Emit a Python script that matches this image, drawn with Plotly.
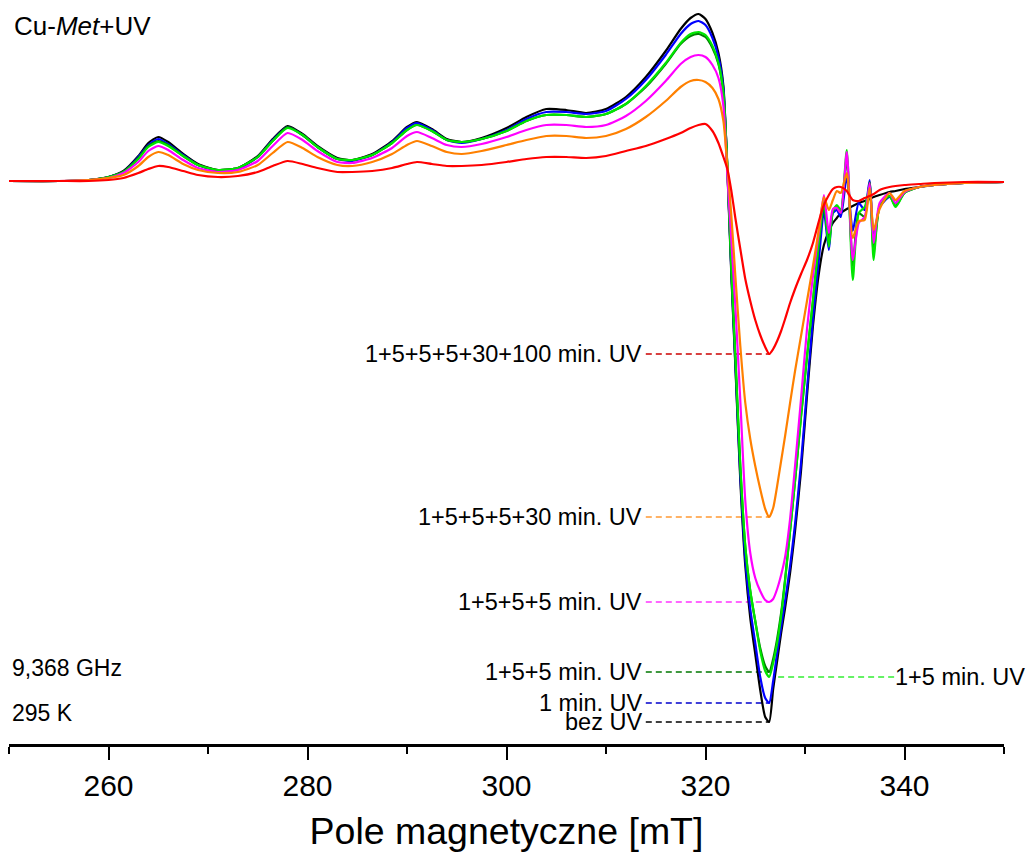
import plotly.graph_objects as go

# Magnetic field grid [mT]
field_mT = [250, 255, 258, 260, 261.5, 263, 264, 265, 266, 267.5,
            269, 271, 273, 275, 276.5, 278, 279.5, 281, 283, 284.5,
            286.5, 288.5, 290, 291, 292.5, 294, 295.5, 297.5, 300, 302,
            304, 306, 308, 310, 312, 314, 316, 317.5, 318.5, 319.3,
            320, 320.7, 321.3, 321.8, 322.2, 322.6, 323, 323.5, 324, 324.5,
            325, 325.5, 326, 326.4, 326.8, 327.2, 327.6, 328, 328.5, 329,
            329.6, 330.2, 330.8, 331.4, 331.9, 332.4, 332.8, 333.2, 333.6, 334.2,
            334.8, 335.4, 336, 336.5, 336.9, 337.5, 338.5, 339.1, 340, 341.5,
            343, 346, 350]

# EPR signal (first derivative, a.u.)
bez_uv = [0, 0, 1, 4, 10, 25, 38, 44, 39, 27,
          17, 11, 13, 25, 42, 55, 47, 35, 23, 21,
          27, 40, 54, 59, 52, 42, 39, 43, 53, 64,
          72, 71, 68, 72, 84, 104, 130, 152, 163, 167,
          162, 148, 128, 95, 10, -95, -185, -300, -385, -437,
          -473, -509, -536, -541, -508, -480, -452, -427, -392, -350,
          -290, -215, -145, -92, -64, -50, -42, -37, -32, -28,
          -25, -22, -20, -18, -16, -14, -11, -10, -8, -6,
          -4, -2, -1]

uv_1 = [0, 0, 1, 4, 9, 24, 36, 42, 37, 26,
        16, 10, 12, 24, 41, 54, 46, 34, 22, 20,
        26, 39, 53, 58, 51, 41, 38, 42, 51, 62,
        69, 69, 67, 70, 82, 101, 126, 147, 157, 160,
        156, 143, 124, 92, 12, -92, -182, -295, -378, -428,
        -462, -496, -517, -522, -500, -472, -446, -420, -385, -343,
        -282, -208, -138, -78, -30, -69, -32, -29, -36, 5,
        -50, -22, -29, 1, -59, -26, -16, -22, -11, -6,
        -4, -2, -1]

uv_1_5 = [0, 0, 1, 4, 9, 22, 34, 39, 35, 25,
          16, 11, 13, 24, 40, 53, 46, 34, 22, 21,
          26, 38, 51, 56, 50, 41, 39, 42, 50, 60,
          66, 66, 64, 67, 77, 95, 118, 138, 147, 149,
          146, 135, 118, 88, 14, -88, -175, -285, -365, -410,
          -440, -470, -490, -496, -482, -462, -435, -400, -350, -300,
          -235, -175, -119, -60, -20, -66, -30, -24, -29, 31,
          -99, -32, -26, -6, -79, -25, -15, -26, -12, -6,
          -4, -2, -1]

uv_1_5_5 = [0, 0, 1, 4, 9, 23, 35, 40, 36, 25,
            16, 11, 13, 24, 40, 54, 46, 34, 22, 21,
            26, 38, 51, 56, 50, 41, 39, 42, 50, 60,
            66, 66, 64, 67, 77, 94, 117, 137, 145, 147,
            144, 133, 117, 87, 13, -88, -176, -286, -366, -410,
            -440, -467, -485, -491, -478, -458, -432, -398, -350, -300,
            -236, -176, -120, -62, -24, -62, -30, -26, -32, 24,
            -85, -32, -36, -1, -72, -25, -15, -25, -12, -6,
            -4, -2, -1]

uv_1_5_5_5 = [0, 0, 1, 3, 8, 19, 30, 35, 31, 21,
              13, 9, 11, 20, 35, 48, 41, 30, 19, 18,
              23, 33, 45, 49, 43, 36, 34, 37, 44, 51,
              56, 56, 54, 56, 65, 80, 100, 117, 124, 126,
              124, 116, 103, 75, 5, -60, -125, -220, -320, -372,
              -397, -410, -419, -421, -418, -408, -394, -376, -338, -285,
              -218, -148, -95, -50, -14, -52, -28, -27, -32, 29,
              -79, -42, -36, -2, -62, -22, -12, -22, -11, -6,
              -4, -2, -1]

uv_1_5_5_5_30 = [0, 0, 1, 3, 6, 15, 24, 29, 26, 17,
                 11, 8, 9, 16, 28, 39, 33, 24, 16, 15,
                 19, 27, 36, 40, 35, 29, 27, 30, 36, 41,
                 45, 45, 43, 45, 52, 64, 80, 94, 100, 101,
                 99, 93, 82, 60, 15, -35, -95, -165, -222, -258,
                 -285, -308, -328, -336, -327, -305, -280, -255, -222, -190,
                 -155, -120, -85, -48, -16, -29, -19, -10, -12, 8,
                 -57, -40, -39, -7, -49, -28, -12, -19, -10, -6,
                 -4, -2, -1]

uv_1_5_5_5_30_100 = [0, 0, 0, 1, 3, 8, 12, 15, 14, 10,
                     6, 4, 5, 9, 15, 20, 17, 13, 9, 9,
                     10, 13, 17, 19, 17, 15, 15, 16, 19, 22,
                     24, 24, 23, 25, 30, 35, 42, 48, 53, 56,
                     57, 50, 38, 24, 12, -10, -37, -68, -98, -120,
                     -139, -154, -166, -173, -168, -160, -150, -138, -122, -108,
                     -93, -79, -62, -40, -24, -14, -8, -6, -6, -10,
                     -19, -20, -17, -15, -13, -9, -6, -5, -4, -3,
                     -2, -1, -1]

labels = ["bez UV", "1 min. UV", "1+5 min. UV", "1+5+5 min. UV",
          "1+5+5+5 min. UV", "1+5+5+5+30 min. UV", "1+5+5+5+30+100 min. UV"]
series = [bez_uv, uv_1, uv_1_5, uv_1_5_5, uv_1_5_5_5, uv_1_5_5_5_30, uv_1_5_5_5_30_100]
line_colors = ["#000000", "#0000ff", "#00e600", "#008000", "#ff00ff", "#ff8000", "#ff0000"]
leader_colors = ["#000000", "#0000cc", "#33ee33", "#007700", "#ff33ff", "#ff9933", "#cc0000"]

tick_vals = [260, 280, 300, 320, 340]
minor_vals = [250, 270, 290, 310, 330, 350]

FONT = "Arial, Liberation Sans, sans-serif"
LABEL_SIZE = 23.5

fig = go.Figure()

# leader lines from each label to the minimum of its spectrum
for i, ys in enumerate(series):
    y_min = min(ys)
    x_min = field_mT[ys.index(y_min)]
    if labels[i] == "1+5 min. UV":
        xs = [327.3, 339.0]
    else:
        xs = [314.0, x_min]
    fig.add_trace(go.Scatter(x=xs, y=[y_min, y_min], mode="lines",
                             line=dict(color=leader_colors[i], width=1.3, dash="6px,4px"),
                             hoverinfo="skip", showlegend=False))

draw_order = [0, 1, 3, 2, 4, 5, 6]
for i in draw_order:
    fig.add_trace(go.Scatter(x=field_mT, y=series[i], mode="lines", name=labels[i],
                             line=dict(color=line_colors[i], width=2.2, shape="spline", smoothing=0.6),
                             showlegend=False))

annotations = []
for i, ys in enumerate(series):
    y_min = min(ys)
    if labels[i] == "1+5 min. UV":
        annotations.append(dict(x=339.0, y=y_min, text=labels[i], xanchor="left", yanchor="middle",
                                xshift=-2, showarrow=False,
                                font=dict(size=LABEL_SIZE, color="black", family=FONT)))
    else:
        annotations.append(dict(x=314.0, y=y_min, text=labels[i], xanchor="right", yanchor="middle",
                                xshift=-2, showarrow=False,
                                font=dict(size=LABEL_SIZE, color="black", family=FONT)))

annotations += [
    dict(x=250.35, y=155, text="Cu-<i>Met</i>+UV", xanchor="left", yanchor="middle", showarrow=False,
         font=dict(size=26, color="black", family=FONT)),
    dict(x=250.1, y=-487, text="9,368 GHz", xanchor="left", yanchor="middle", showarrow=False,
         font=dict(size=23, color="black", family=FONT)),
    dict(x=250.1, y=-532, text="295 K", xanchor="left", yanchor="middle", showarrow=False,
         font=dict(size=23, color="black", family=FONT)),
]

fig.update_layout(
    width=1030, height=859,
    margin=dict(l=9, r=26, t=0, b=115),
    paper_bgcolor="white", plot_bgcolor="white",
    annotations=annotations,
    xaxis=dict(range=[250, 350], showgrid=False, zeroline=False,
               showline=True, linecolor="black", linewidth=2.5,
               tickmode="array", tickvals=tick_vals, ticktext=[str(v) for v in tick_vals],
               ticks="outside", ticklen=13, tickwidth=2, tickcolor="black",
               minor=dict(tickvals=minor_vals, ticks="outside", ticklen=7, tickwidth=2, tickcolor="black"),
               tickfont=dict(size=30, color="black", family=FONT),
               title=dict(text="Pole magnetyczne [mT]", standoff=17,
                          font=dict(size=37.5, color="black", family=FONT))),
    yaxis=dict(range=[-563, 181], visible=False, showgrid=False, zeroline=False),
)

fig.write_html("out.html")
